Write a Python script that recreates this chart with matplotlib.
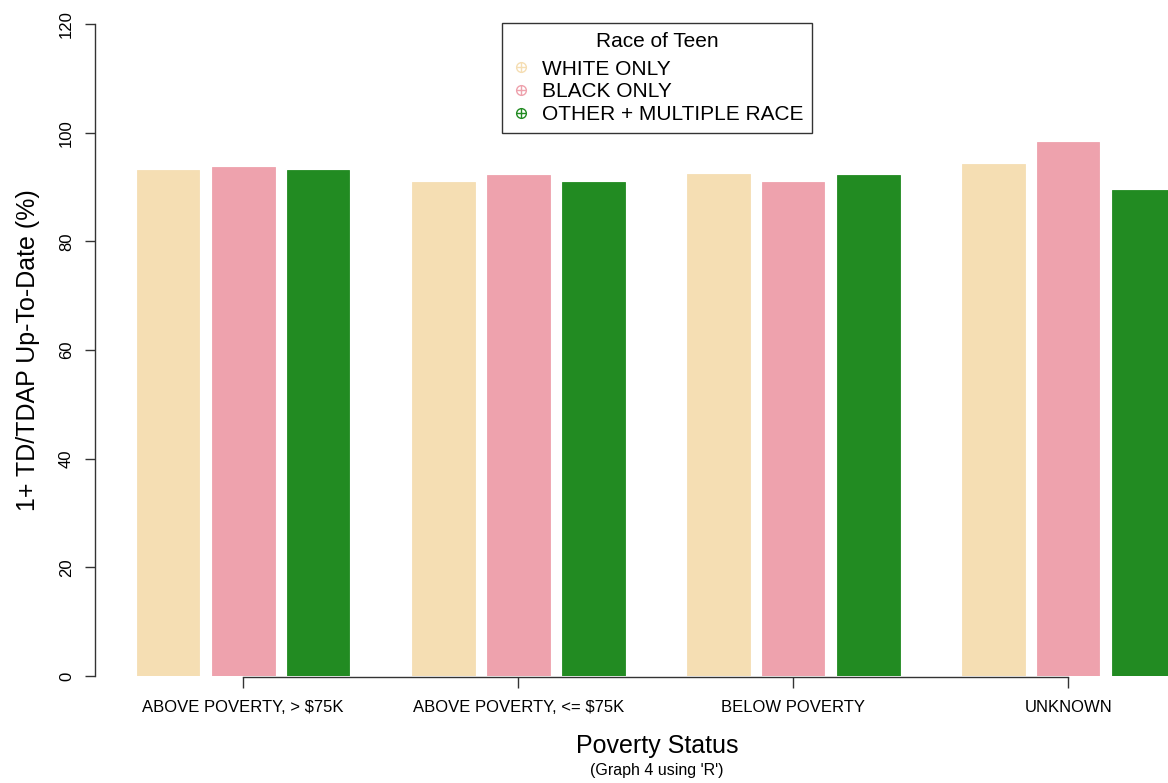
import matplotlib
matplotlib.use("Agg")
import matplotlib.pyplot as plt
from matplotlib.lines import Line2D
import numpy as np

plt.rcParams['font.family'] = ['Liberation Sans', 'DejaVu Sans']

categories = ["ABOVE POVERTY, > $75K", "ABOVE POVERTY, <= $75K", "BELOW POVERTY", "UNKNOWN"]
series_names = ["WHITE ONLY", "BLACK ONLY", "OTHER + MULTIPLE RACE"]
white_only = [93.1, 90.9, 92.4, 94.2]
black_only = [93.7, 92.2, 91.0, 98.3]
other_multi = [93.1, 90.9, 92.2, 89.5]
colors = ["#F5DEB3", "#EEA2AD", "#228B22"]
yticks = [0, 20, 40, 60, 80, 100, 120]

W, H = 1168, 783
fig = plt.figure(figsize=(W / 100, H / 100), dpi=100)

# R-like barplot geometry: bar width 1, space 0.2 within group, 1 between groups
inner, outer = 0.2, 1.0
n_groups = len(categories)
group_w = 3 + 2 * inner + outer
lefts0 = np.array([outer + g * group_w for g in range(n_groups)])
xmin_data, xmax_data = 0.336, 18.26
px_per_unit = 62.5
ax_left_px = 137 + (xmin_data - 1) * px_per_unit
ax_right_px = 137 + (xmax_data - 1) * px_per_unit
ax = fig.add_axes([ax_left_px / W, (H - 676) / H, (ax_right_px - ax_left_px) / W, (676 - 24) / H])

all_series = [white_only, black_only, other_multi]
for i, vals in enumerate(all_series):
    ax.bar(lefts0 + i * (1 + inner), vals, width=1.0, align='edge', color=colors[i],
           edgecolor=colors[i], linewidth=0.6, label=series_names[i])

centers = lefts0 + (3 + 2 * inner) / 2
ax.set_xlim(xmin_data, xmax_data)
ax.set_ylim(0, 120)

for s in ['top', 'right']:
    ax.spines[s].set_visible(False)
ax.spines['left'].set_bounds(0, 120)
ax.spines['bottom'].set_bounds(centers[0], centers[-1])
ax.spines['bottom'].set_position(('outward', 1))
for s in ['left', 'bottom']:
    ax.spines[s].set_linewidth(1.0)
    ax.spines[s].set_color('#333333')

ax.set_yticks(yticks)
ax.set_yticklabels([str(v) for v in yticks], rotation=90, va='center')
ax.set_xticks(centers)
ax.set_xticklabels(categories)
ax.tick_params(axis='y', length=7.5, width=1.0, labelsize=12, pad=8, color='#333333')
ax.tick_params(axis='x', length=8, width=1.0, labelsize=12, pad=8, color='#333333')

fig.text(28 / W, 1 - 350 / H, "1+ TD/TDAP Up-To-Date (%)", rotation=90, ha='center', va='center', fontsize=18)
fig.text(657 / W, 1 - 746 / H, "Poverty Status", ha='center', va='center', fontsize=18)
fig.text(657 / W, 1 - 770 / H, "(Graph 4 using 'R')", ha='center', va='center', fontsize=11.5)

handles = []
for c in colors:
    h1 = Line2D([], [], marker='o', markersize=7, markerfacecolor='none', markeredgecolor=c, linestyle='none', markeredgewidth=1)
    h2 = Line2D([], [], marker='+', markersize=7, color=c, linestyle='none', markeredgewidth=1)
    handles.append((h1, h2))
leg = fig.legend(handles, series_names, loc='upper center', bbox_to_anchor=(657 / W, 1 - 23 / H),
                 bbox_transform=fig.transFigure, title="Race of Teen", fontsize=15, title_fontsize=15,
                 frameon=True, fancybox=False, edgecolor='black', handlelength=1.0, handletextpad=0.5,
                 labelspacing=0.17, borderpad=0.42, borderaxespad=0, alignment='center')
leg.get_frame().set_linewidth(1.0)
leg._legend_box.sep = 6.5

fig.savefig("out.png", dpi=100)
